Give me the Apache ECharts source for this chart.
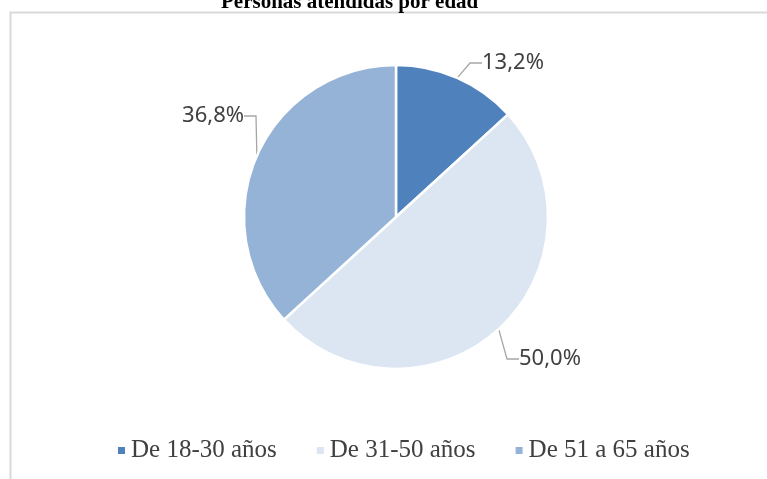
<!DOCTYPE html>
<html>
<head>
<meta charset="utf-8">
<script src="https://cdn.jsdelivr.net/npm/echarts@6/dist/echarts.min.js"></script>
<style>html,body{margin:0;padding:0;background:#fff;}#c{width:767px;height:479px;}</style>
</head>
<body>
<div id="c"></div>
<script>
const titleText = "Personas atendidas por edad";
const categories = ["De 18-30 años", "De 31-50 años", "De 51 a 65 años"];
const values = [13.2, 50.0, 36.8];
const colors = ["#4f81bd", "#dce6f2", "#95b3d7"];

const labelSpots = [
  { x: 482, y: 63, align: 'left' },
  { x: 519, y: 359, align: 'left' },
  { x: 244, y: 116, align: 'right' }
];

const chart = echarts.init(document.getElementById('c'));
chart.setOption({
  animation: false,
  graphic: [{
    type: 'rect', left: 8, top: 10,
    shape: { width: 780, height: 500 },
    style: { fill: 'none', stroke: '#d9d9d9', lineWidth: 2 }
  }],
  title: {
    text: titleText, left: 216, top: -13,
    textStyle: { fontFamily: 'Liberation Serif', fontWeight: 'bold', fontSize: 21, color: '#000' }
  },
  legend: {
    data: categories, bottom: 11, left: 111,
    itemWidth: 9, itemHeight: 9, itemGap: 38, icon: 'rect',
    textStyle: { fontFamily: 'Liberation Serif', fontSize: 25, color: '#404040' }
  },
  series: [{
    type: 'pie',
    center: [396, 217], radius: 152,
    startAngle: 90, clockwise: true,
    data: categories.map((c, i) => ({ name: c, value: values[i], itemStyle: { color: colors[i] } })),
    itemStyle: { borderColor: '#fff', borderWidth: 2.5 },
    label: {
      show: true, position: 'outside',
      formatter: p => p.value.toFixed(1).replace('.', ',') + '%',
      fontFamily: 'Noto Sans', fontSize: 22, color: '#404040'
    },
    labelLine: { show: true, length: 12, length2: 12, lineStyle: { color: '#a6a6a6', width: 1.3 } },
    labelLayout: p => ({
      x: labelSpots[p.dataIndex].x,
      y: labelSpots[p.dataIndex].y,
      align: labelSpots[p.dataIndex].align,
      verticalAlign: 'middle'
    })
  }]
});
</script>
</body>
</html>
